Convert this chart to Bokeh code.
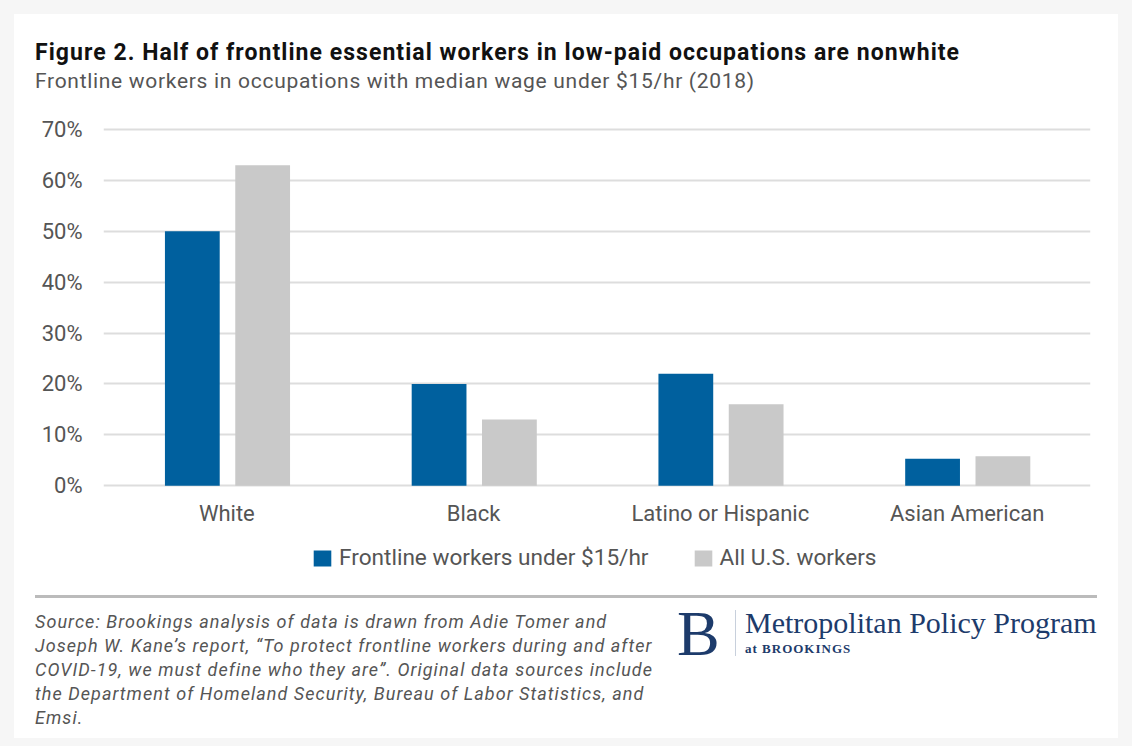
from bokeh.plotting import figure
from bokeh.models import (ColumnDataSource, FactorRange, Range1d, Div,
                          Legend, LegendItem, PrintfTickFormatter, FixedTicker)
from bokeh.layouts import column
from bokeh.transform import dodge
from bokeh.embed import file_html
from bokeh.resources import INLINE

categories = ["White", "Black", "Latino or Hispanic", "Asian American"]
frontline = [50, 20, 22, 5.3]
all_workers = [63, 13, 16, 5.8]
y_ticks = [0, 10, 20, 30, 40, 50, 60, 70]
series_names = ["Frontline workers under $15/hr", "All U.S. workers"]

title_text = "Figure 2. Half of frontline essential workers in low-paid occupations are nonwhite"
subtitle_text = "Frontline workers in occupations with median wage under $15/hr (2018)"
source_lines = [
    "Source: Brookings analysis of data is drawn from Adie Tomer and",
    "Joseph W. Kane\u2019s report, \u201cTo protect frontline workers during and after",
    "COVID-19, we must define who they are\u201d. Original data sources include",
    "the Department of Homeland Security, Bureau of Labor Statistics, and",
    "Emsi.",
]
logo_letter = "B"
logo_name = "Metropolitan Policy Program"
logo_sub = "at BROOKINGS"

BLUE = "#00609e"
GRAY = "#c9c9c9"
TXT = "#555555"
NAVY = "#1d3b6b"
PAGE = "#f6f6f6"

CW = 1104  # card width (canvas x 14..1118)


def abs_text(left, top, text, css):
    return (f'<div style="position:absolute;left:{left}px;top:{top}px;'
            f'white-space:nowrap;{css}">{text}</div>')


# ---------- header (canvas y 14..114) ----------
header_html = (
    '<div style="position:relative;width:1104px;height:100px;background:white;">'
    + abs_text(21, 27, title_text,
               "font-family:Roboto;font-weight:bold;font-size:23px;line-height:24px;"
               "letter-spacing:1.05px;color:#111111;")
    + abs_text(21, 56, subtitle_text,
               f"font-family:Roboto;font-size:21px;line-height:22px;letter-spacing:0.7px;"
               f"color:{TXT};")
    + "</div>")
header = Div(text=header_html, width=CW, height=100, margin=0)

# ---------- chart (canvas y 114..593) ----------
src = ColumnDataSource(dict(cat=categories, front=frontline, allw=all_workers))
p = figure(width=CW, height=479, x_range=FactorRange(*categories, range_padding=0),
           y_range=Range1d(-21.2, 70.4), output_backend="svg", toolbar_location=None,
           min_border_left=89, min_border_right=28, min_border_top=13,
           min_border_bottom=0, margin=0)
p.border_fill_color = "white"
p.background_fill_color = "white"
p.outline_line_color = None

r1 = p.vbar(x=dodge("cat", -0.14, range=p.x_range), top="front", width=0.222,
            source=src, fill_color=BLUE, line_color=None)
r2 = p.vbar(x=dodge("cat", 0.145, range=p.x_range), top="allw", width=0.222,
            source=src, fill_color=GRAY, line_color=None)

p.xgrid.grid_line_color = None
p.ygrid.grid_line_color = "#dddddd"
p.ygrid.grid_line_width = 2
p.ygrid.ticker = FixedTicker(ticks=y_ticks)

p.yaxis.ticker = FixedTicker(ticks=y_ticks)
p.yaxis.formatter = PrintfTickFormatter(format="%d%%")
p.yaxis.axis_line_color = None
p.yaxis.major_tick_line_color = None
p.yaxis.minor_tick_line_color = None
p.yaxis.major_label_text_font = "Roboto"
p.yaxis.major_label_text_font_size = "22px"
p.yaxis.major_label_text_color = TXT
p.yaxis.major_label_standoff = 15

p.xaxis.fixed_location = 0
p.xaxis.axis_line_color = None
p.xaxis.major_tick_line_color = None
p.xaxis.major_label_text_font = "Roboto"
p.xaxis.major_label_text_font_size = "22px"
p.xaxis.major_label_text_color = TXT
p.xaxis.major_label_standoff = 9

legend = Legend(items=[LegendItem(label=series_names[0], renderers=[r1]),
                       LegendItem(label=series_names[1], renderers=[r2])],
                orientation="horizontal", location=(208, 22),
                label_text_font="Roboto", label_text_font_size="22.6px",
                label_text_color=TXT, glyph_width=22, glyph_height=20,
                label_standoff=6, spacing=43, border_line_color=None,
                background_fill_alpha=0, padding=4, margin=0)
p.add_layout(legend)

# ---------- footer (canvas y 593..738) ----------
src_css = (f"font-family:Roboto;font-style:italic;font-size:18px;line-height:20px;"
           f"letter-spacing:1.05px;color:{TXT};")
footer_html = ('<div style="position:relative;width:1104px;height:145px;background:white;">'
               '<div style="position:absolute;left:21px;top:2px;width:1062px;height:3px;'
               'background:#bbbbbb;"></div>')
for i, line in enumerate(source_lines):
    footer_html += abs_text(21, 19 + 24 * i, line, src_css)
footer_html += ('<div style="position:absolute;left:721px;top:17px;width:1px;height:46px;'
                'background:#c8d0dc;"></div>')
footer_html += abs_text(663, 11, logo_letter,
                        f"font-family:'Liberation Serif';font-size:64px;line-height:60px;"
                        f"color:{NAVY};")
footer_html += abs_text(731, 15, logo_name,
                        f"font-family:'Liberation Serif';font-size:30px;line-height:30px;"
                        f"color:{NAVY};")
footer_html += abs_text(731, 49, logo_sub,
                        f"font-family:'Liberation Serif';font-weight:bold;font-size:13px;"
                        f"line-height:14px;letter-spacing:1px;color:{NAVY};")
footer_html += "</div>"
footer = Div(text=footer_html, width=CW, height=145, margin=0)

inner = column(header, p, footer, spacing=0, margin=(14, 14, 8, 14),
               styles={"background-color": "white"})
page = column(inner, width=1132, height=746, margin=0,
              styles={"background-color": PAGE})

open("out.html", "w").write(file_html(page, INLINE))
